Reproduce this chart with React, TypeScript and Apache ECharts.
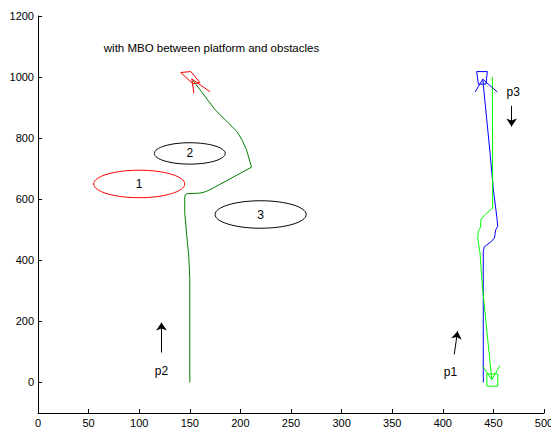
import React, { useEffect, useRef } from "react";
import * as echarts from "echarts";

// Axis ticks
const xTicks = [0, 50, 100, 150, 200, 250, 300, 350, 400, 450, 500];
const yTicks = [0, 200, 400, 600, 800, 1000, 1200];

// Obstacles: [cx, cy, radius, label]
const obstacles: [number, number, number, string][] = [
  [100, 650, 45, "1"],
  [150, 750, 35, "2"],
  [220, 550, 45, "3"],
];
const obstacleColors = ["#ff0000", "#000000", "#000000"];

// Platform p2 trajectory (dark green)
const pathP2: [number, number][] = [
  [150, 0], [150, 337], [149, 413], [147, 480], [145, 556], [145, 604],
  [145.5, 615], [147, 618], [160, 620], [165, 624], [170, 631], [211, 705],
  [206, 762], [201.5, 795], [196.5, 822], [175, 893], [152, 994],
];

// Platform p1 trajectory (blue)
const pathP1: [number, number][] = [
  [440, 0], [440, 429], [441, 444], [448, 462], [451, 473], [452.3, 500],
  [454.3, 511], [453.3, 544], [450, 631], [446.7, 751], [439.5, 993],
];

// Platform p3 trajectory (light green)
const pathP3: [number, number][] = [
  [449, 1000], [449.3, 571], [446.7, 564], [441.8, 549], [437.8, 535],
  [437.1, 507], [435.1, 495], [434.5, 473], [436.8, 424], [439.1, 315],
  [448.4, 9],
];

// Platform bodies at the end of each run
const bodyP2: [number, number][] = [[141, 1015], [151, 1018], [160, 982], [153, 978], [141, 1015]];
const wingsP2: [number, number][] = [[154, 947], [152, 994], [170, 952]];
const bodyP1: [number, number][] = [[433.5, 1018], [444, 1018], [442.7, 977], [435.1, 977], [433.5, 1018]];
const wingsP1: [number, number][] = [[431.9, 951], [439.5, 993], [453.9, 951]];
const bodyP3: [number, number][] = [[443.4, 28], [454.3, 28], [454.3, -12], [443.7, -12], [443.4, 28]];
const wingsP3: [number, number][] = [[439.3, 53], [448.4, 9], [456.6, 56]];

// Heading arrows: [from, to]
const arrows: [[number, number], [number, number]][] = [
  [[122, 98], [122, 196]],
  [[411.3, 92], [414.6, 168]],
  [[468, 906], [468, 838]],
];

// Free text: [x, y, text, align]
const notes: [number, number, string, string][] = [
  [65, 1095, "with MBO between platform and obstacles", "left"],
  [122, 38, "p2", "center"],
  [407.5, 33, "p1", "center"],
  [469.5, 952, "p3", "center"],
];

const FONT = "Liberation Sans, Arial, Helvetica, sans-serif";

function lineSeries(data: [number, number][], color: string) {
  return {
    type: "line",
    data,
    showSymbol: false,
    symbol: "none",
    lineStyle: { color, width: 1 },
    silent: true,
    clip: false,
  };
}

export default function App() {
  const ref = useRef<HTMLDivElement>(null);

  useEffect(() => {
    if (!ref.current) return;
    const chart = echarts.init(ref.current, undefined, { renderer: "svg" });

    const option = {
      animation: false,
      backgroundColor: "#ffffff",
      grid: {
        left: 38,
        right: 7,
        top: 16,
        bottom: 14,
        containLabel: false,
        outerBoundsMode: "none",
      },
      xAxis: {
        type: "value",
        min: 0,
        max: 500,
        interval: 50,
        axisLine: { show: true, onZero: false, lineStyle: { color: "#000", width: 1 } },
        axisTick: { show: true, inside: true, length: 4, lineStyle: { color: "#000" } },
        axisLabel: {
          color: "#000",
          fontSize: 11,
          fontFamily: FONT,
          margin: 4,
          customValues: xTicks,
          formatter: (v: number) => String(v),
        },
        splitLine: { show: false },
      },
      yAxis: {
        type: "value",
        min: -100,
        max: 1200,
        axisLine: { show: true, onZero: false, lineStyle: { color: "#000", width: 1 } },
        axisTick: { show: true, inside: true, length: 4, customValues: yTicks, lineStyle: { color: "#000" } },
        axisLabel: {
          color: "#000",
          fontSize: 11,
          fontFamily: FONT,
          margin: 4,
          customValues: yTicks,
          formatter: (v: number) => String(v),
        },
        splitLine: { show: false },
      },
      series: [
        {
          type: "custom",
          silent: true,
          clip: false,
          data: obstacles.map((o, i) => [o[0], o[1], o[2], i]),
          renderItem: (params: any, api: any) => {
            const cx = api.value(0);
            const cy = api.value(1);
            const r = api.value(2);
            const idx = api.value(3);
            const c = api.coord([cx, cy]);
            const s = api.size([r, r]);
            return {
              type: "group",
              children: [
                {
                  type: "ellipse",
                  shape: { cx: c[0], cy: c[1], rx: s[0], ry: s[1] },
                  style: { fill: "none", stroke: obstacleColors[idx], lineWidth: 1 },
                },
                {
                  type: "text",
                  x: c[0],
                  y: c[1],
                  style: {
                    text: obstacles[idx][3],
                    fill: "#000",
                    font: `12px ${FONT}`,
                    align: "center",
                    verticalAlign: "middle",
                  },
                },
              ],
            };
          },
        },
        lineSeries(pathP2, "#008000"),
        lineSeries(pathP1, "#0000ff"),
        lineSeries(pathP3, "#00ff00"),
        lineSeries(bodyP2, "#ff0000"),
        lineSeries(wingsP2, "#ff0000"),
        lineSeries(bodyP1, "#0000ff"),
        lineSeries(wingsP1, "#0000ff"),
        lineSeries(bodyP3, "#00ff00"),
        lineSeries(wingsP3, "#00ff00"),
        {
          type: "lines",
          coordinateSystem: "cartesian2d",
          silent: true,
          symbol: ["none", "arrow"],
          symbolSize: 8,
          lineStyle: { color: "#000", width: 1, opacity: 1 },
          itemStyle: { color: "#000" },
          data: arrows.map((a) => ({ coords: a })),
        },
        {
          type: "custom",
          silent: true,
          clip: false,
          data: notes.map((n, i) => [n[0], n[1], i]),
          renderItem: (params: any, api: any) => {
            const idx = api.value(2);
            const c = api.coord([api.value(0), api.value(1)]);
            return {
              type: "text",
              x: c[0],
              y: c[1],
              style: {
                text: notes[idx][2],
                fill: "#000",
                font: `${idx === 0 ? 11.5 : 12}px ${FONT}`,
                align: notes[idx][3],
                verticalAlign: "middle",
              },
            };
          },
        },
      ],
    };

    chart.setOption(option as any);
    return () => chart.dispose();
  }, []);

  return (
    <div
      ref={ref}
      style={{ position: "fixed", left: 0, top: 0, width: 551, height: 427, background: "#fff" }}
    />
  );
}
